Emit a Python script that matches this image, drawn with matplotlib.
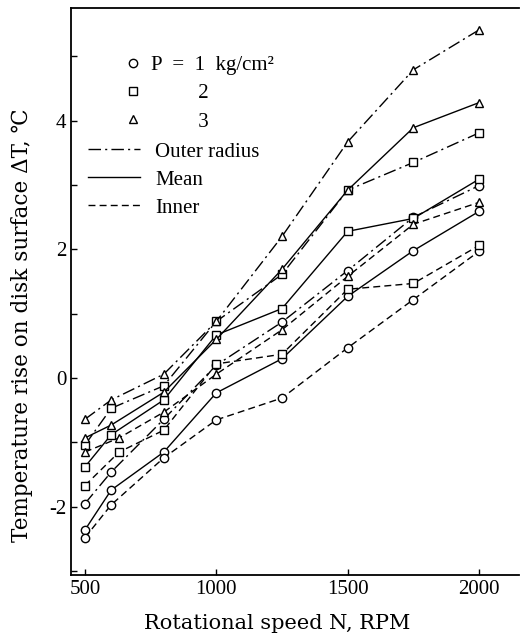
import matplotlib
matplotlib.use("Agg")
import matplotlib.pyplot as plt
from matplotlib.lines import Line2D

plt.rcParams['font.family'] = ['Liberation Serif', 'DejaVu Serif']
plt.rcParams['axes.unicode_minus'] = False

# rotational speed, RPM (inner radius for P=2,3 measured a bit later)
rpm = [500, 600, 800, 1000, 1250, 1500, 1750, 2000]
rpm_b = [500, 630, 800, 1000, 1250, 1500, 1750, 2000]

# temperature rise, deg C
outer_p1 = [-1.95, -1.46, -0.64, 0.20, 0.87, 1.67, 2.50, 2.99]
mean_p1 = [-2.36, -1.74, -1.15, -0.23, 0.30, 1.27, 1.98, 2.59]
inner_p1 = [-2.48, -1.97, -1.24, -0.65, -0.31, 0.47, 1.22, 1.97]
outer_p2 = [-1.04, -0.47, -0.12, 0.88, 1.61, 2.92, 3.35, 3.81]
mean_p2 = [-1.38, -0.88, -0.34, 0.67, 1.08, 2.28, 2.48, 3.09]
inner_p2 = [-1.67, -1.15, -0.81, 0.22, 0.37, 1.38, 1.47, 2.06]
outer_p3 = [-0.64, -0.34, 0.06, 0.88, 2.20, 3.67, 4.79, 5.41]
mean_p3 = [-0.93, -0.73, -0.22, 0.60, 1.69, 2.92, 3.89, 4.28]
inner_p3 = [-1.15, -0.93, -0.53, 0.06, 0.75, 1.58, 2.39, 2.73]

x_ticks = [500, 1000, 1500, 2000]
y_ticks = [-3, -2, -1, 0, 1, 2, 3, 4, 5]
y_ticklabels = ['', '-2', '', '0', '', '2', '', '4', '']

dashdot = (0, (9, 3, 1.5, 3))
dashed = (0, (5, 3))
solid = '-'

series = [
    (rpm, outer_p1, 'o', dashdot),
    (rpm, mean_p1, 'o', solid),
    (rpm, inner_p1, 'o', dashed),
    (rpm, outer_p2, 's', dashdot),
    (rpm, mean_p2, 's', solid),
    (rpm_b, inner_p2, 's', dashed),
    (rpm, outer_p3, '^', dashdot),
    (rpm, mean_p3, '^', solid),
    (rpm_b, inner_p3, '^', dashed),
]

fig = plt.figure(figsize=(5.22, 6.36), dpi=100)
ax = fig.add_axes([71 / 522, 61 / 636, 448 / 522, 567 / 636])

for xs, ys, mk, ls in series:
    ax.plot(xs, ys, color='black', linestyle=ls, linewidth=1.0,
            marker=mk, markersize=6, markerfacecolor='white',
            markeredgecolor='black', markeredgewidth=1.0)

ax.set_xlim(447, 2152)
ax.set_ylim(-3.06, 5.75)
ax.set_xticks(x_ticks)
ax.set_yticks(y_ticks)
ax.set_yticklabels(y_ticklabels)
ax.tick_params(direction='in', length=4, width=1.0, labelsize=15)
ax.spines['right'].set_visible(False)
for s in ['left', 'bottom', 'top']:
    ax.spines[s].set_linewidth(1.3)

ax.set_xlabel('Rotational speed N, RPM', fontsize=15, family=['DejaVu Serif'])
ax.xaxis.set_label_coords(0.46, -0.068)
ax.set_ylabel('Temperature rise on disk surface \u0394T, \u2103', fontsize=15.5,
              family=['DejaVu Serif', 'DejaVu Sans'])
ax.yaxis.set_label_coords(-0.085, 0.44)

mk_handles = [Line2D([], [], color='black', marker=m, linestyle='none', markersize=6,
                     markerfacecolor='white', markeredgewidth=1.0) for m in ['o', 's', '^']]
leg1 = ax.legend(mk_handles, ['P  =  1  kg/cm\u00b2', '         2', '         3'],
                 loc='upper left', bbox_to_anchor=(0.105, 0.931), frameon=False,
                 fontsize=15, handlelength=0.6, handletextpad=0.6, labelspacing=0.42,
                 borderaxespad=0)
ax.add_artist(leg1)

ln_handles = [Line2D([], [], color='black', linestyle=ls, linewidth=1.0)
              for ls in [dashdot, solid, dashed]]
ax.legend(ln_handles, ['Outer radius', 'Mean', 'Inner'],
          loc='upper left', bbox_to_anchor=(0.02, 0.778), frameon=False,
          fontsize=15, handlelength=2.5, handletextpad=0.7, labelspacing=0.4,
          borderaxespad=0)

fig.savefig('out.png', dpi=100)
